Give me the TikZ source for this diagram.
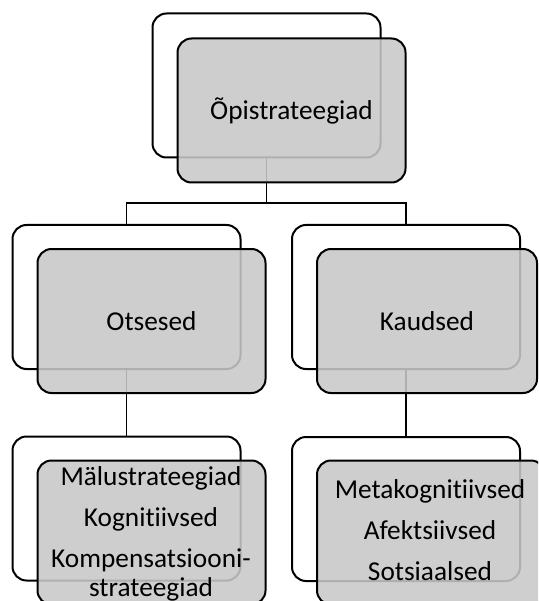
\documentclass[tikz,border=0pt]{standalone}
\usepackage{fontspec}
\setmainfont{Carlito}[RawFeature={-liga}]
\begin{document}
\begin{tikzpicture}[x=1pt,y=-1pt,
  back/.style={draw=black, line width=2pt, rounded corners=14pt, fill=white,
    minimum width=228pt, minimum height=144pt, inner sep=0pt},
  front/.style={draw=black, line width=2pt, rounded corners=14pt,
    fill={rgb,255:red,200;green,200;blue,200}, fill opacity=0.88,
    text opacity=1, minimum width=228pt, minimum height=144pt, inner sep=0pt,
    font=\fontsize{27.3}{29}\selectfont},
  link/.style={draw=black, line width=1.6pt},
  label/.style={font=\fontsize{27.3}{29}\selectfont, align=center,
    inner sep=0pt, anchor=base}]
\useasboundingbox (0,0) rectangle (538,601);
\clip (0,0) rectangle (538,601);

% rear frames
\node[back] (topb) at (266.5,85.5) {};
\node[back] (leftb) at (126.5,297) {};
\node[back] (rightb) at (406,297) {};
\node[back] (leftlow) at (126.5,508.5) {};
\node[back] (rightlow) at (406,509) {};

% connectors between the rear frames
\coordinate (bus) at (0,203);
\draw[link] (topb.south) -- (topb.south |- bus) -| (leftb.north);
\draw[link] (topb.south |- bus) -| (rightb.north);
\draw[link] (leftb.south) -- (leftlow.north);
\draw[link] (rightb.south) -- (rightlow.north);

% shaded front panels
\node[front] (topf) at (291.5,110.5) {Õpistrateegiad};
\node[front] (leftf) at (151.5,321) {Otsesed};
\node[front, minimum width=220pt] (rightf) at (427,321) {Kaudsed};
\node[front] (leftlowf) at (151.5,532.5) {};
\node[front] (rightlowf) at (431,532.5) {};

% list texts (base anchor sits on the last line)
\node[label] (direct) at (151,596)
  {Mälustrateegiad\\[12pt]Kognitiivsed\\[12pt]Kompensatsiooni-\\strateegiad};
\node[label] (indirect) at (430,580)
  {Metakognitiivsed\\[12pt]Afektsiivsed\\[12pt]Sotsiaalsed};
\end{tikzpicture}
\end{document}
